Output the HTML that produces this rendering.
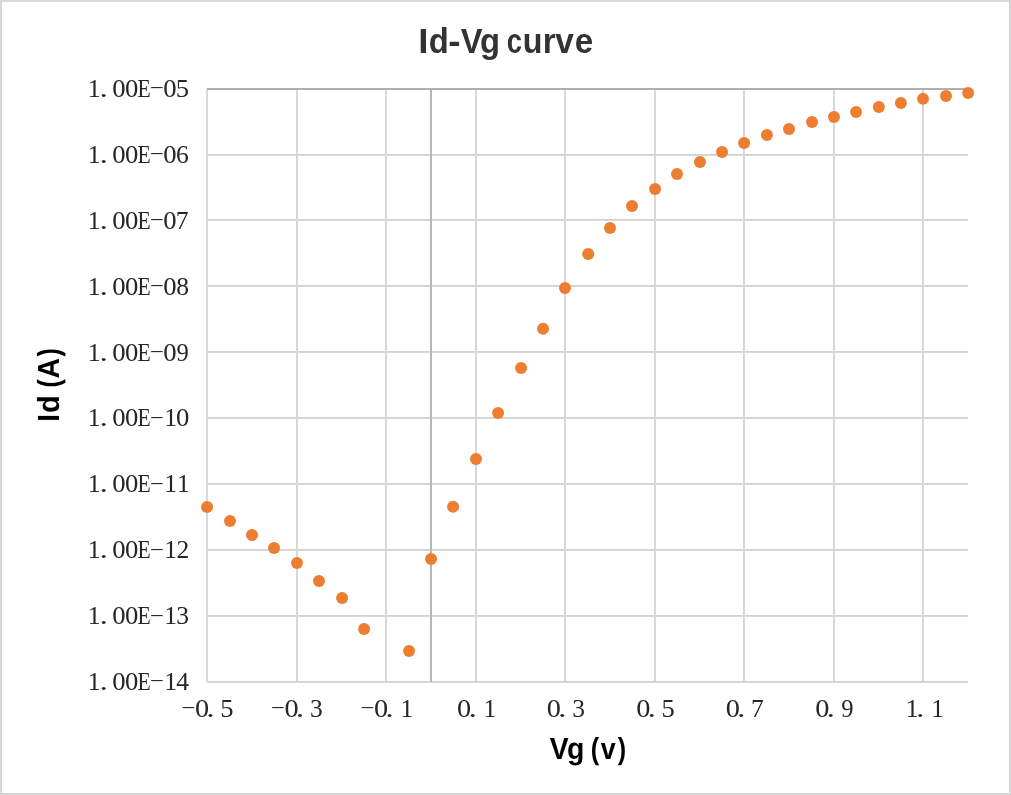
<!DOCTYPE html><html><head><meta charset="utf-8"><style>html,body{margin:0;padding:0;background:#fff;overflow:hidden}svg{display:block}.tk{font-family:"Liberation Serif","Noto Serif CJK SC",serif;font-size:25.50px;fill:#262626}.ttl{font-family:"Liberation Sans",sans-serif;font-weight:bold;font-size:35px;fill:#333}.ax{text-rendering:geometricPrecision;font-family:"Liberation Sans",sans-serif;font-weight:bold;font-size:31.5px;fill:#000}</style></head><body>
<svg width="1011" height="795" viewBox="0 0 1011 795">
<rect x="0" y="0" width="1011" height="795" fill="#d9d9d9"/>
<rect x="2" y="2" width="1007" height="791" fill="#ffffff"/>
<g shape-rendering="crispEdges" stroke-width="1">
<line x1="1.5" y1="2" x2="1.5" y2="793" stroke="#c9c9c9" stroke-dasharray="1 1.7"/>
<line x1="1009.5" y1="2" x2="1009.5" y2="793" stroke="#c9c9c9" stroke-dasharray="1 1.7"/>
<line x1="1" y1="793.5" x2="1010" y2="793.5" stroke="#cbcbcb" stroke-dasharray="1 1"/>
</g>
<g shape-rendering="crispEdges">
<rect x="207" y="154" width="761" height="2" fill="#d9d9d9"/>
<line x1="207" y1="154.5" x2="968" y2="154.5" stroke="#cacaca" stroke-width="1" stroke-dasharray="1 1" stroke-dashoffset="0"/>
<rect x="207" y="219" width="761" height="2" fill="#d9d9d9"/>
<line x1="207" y1="219.5" x2="968" y2="219.5" stroke="#cacaca" stroke-width="1" stroke-dasharray="1 1" stroke-dashoffset="0"/>
<rect x="207" y="285" width="761" height="2" fill="#d9d9d9"/>
<line x1="207" y1="285.5" x2="968" y2="285.5" stroke="#cacaca" stroke-width="1" stroke-dasharray="1 1" stroke-dashoffset="0"/>
<rect x="207" y="351" width="761" height="2" fill="#d9d9d9"/>
<line x1="207" y1="351.5" x2="968" y2="351.5" stroke="#cacaca" stroke-width="1" stroke-dasharray="1 1" stroke-dashoffset="0"/>
<rect x="207" y="417" width="761" height="2" fill="#d9d9d9"/>
<line x1="207" y1="417.5" x2="968" y2="417.5" stroke="#cacaca" stroke-width="1" stroke-dasharray="1 1" stroke-dashoffset="0"/>
<rect x="207" y="483" width="761" height="2" fill="#d9d9d9"/>
<line x1="207" y1="483.5" x2="968" y2="483.5" stroke="#cacaca" stroke-width="1" stroke-dasharray="1 1" stroke-dashoffset="0"/>
<rect x="207" y="549" width="761" height="2" fill="#d9d9d9"/>
<line x1="207" y1="549.5" x2="968" y2="549.5" stroke="#cacaca" stroke-width="1" stroke-dasharray="1 1" stroke-dashoffset="0"/>
<rect x="207" y="615" width="761" height="2" fill="#d9d9d9"/>
<line x1="207" y1="615.5" x2="968" y2="615.5" stroke="#cacaca" stroke-width="1" stroke-dasharray="1 1" stroke-dashoffset="0"/>
<rect x="207" y="681" width="761" height="2" fill="#d9d9d9"/>
<line x1="207" y1="681.5" x2="968" y2="681.5" stroke="#cacaca" stroke-width="1" stroke-dasharray="1 1" stroke-dashoffset="0"/>
<rect x="206" y="89" width="2" height="593" fill="#d9d9d9"/>
<rect x="296" y="89" width="2" height="593" fill="#d9d9d9"/>
<line x1="296.5" y1="89" x2="296.5" y2="682" stroke="#cbcbcb" stroke-width="1" stroke-dasharray="1 3"/>
<rect x="385" y="89" width="2" height="593" fill="#d9d9d9"/>
<line x1="385.5" y1="89" x2="385.5" y2="682" stroke="#cbcbcb" stroke-width="1" stroke-dasharray="1 3"/>
<rect x="475" y="89" width="2" height="593" fill="#d9d9d9"/>
<line x1="475.5" y1="89" x2="475.5" y2="682" stroke="#cbcbcb" stroke-width="1" stroke-dasharray="1 3"/>
<rect x="564" y="89" width="2" height="593" fill="#d9d9d9"/>
<line x1="564.5" y1="89" x2="564.5" y2="682" stroke="#cbcbcb" stroke-width="1" stroke-dasharray="1 3"/>
<rect x="654" y="89" width="2" height="593" fill="#d9d9d9"/>
<line x1="654.5" y1="89" x2="654.5" y2="682" stroke="#cbcbcb" stroke-width="1" stroke-dasharray="1 3"/>
<rect x="743" y="89" width="2" height="593" fill="#d9d9d9"/>
<line x1="743.5" y1="89" x2="743.5" y2="682" stroke="#cbcbcb" stroke-width="1" stroke-dasharray="1 3"/>
<rect x="833" y="89" width="2" height="593" fill="#d9d9d9"/>
<line x1="833.5" y1="89" x2="833.5" y2="682" stroke="#cbcbcb" stroke-width="1" stroke-dasharray="1 3"/>
<rect x="922" y="89" width="2" height="593" fill="#d9d9d9"/>
<line x1="922.5" y1="89" x2="922.5" y2="682" stroke="#cbcbcb" stroke-width="1" stroke-dasharray="1 3"/>
<rect x="430" y="89" width="2" height="593" fill="#b6b6b6"/>
<rect x="207" y="88" width="761" height="2" fill="#b0b0b0"/>
</g>
<circle cx="207.07" cy="506.90" r="6.0" fill="#ed7d31"/>
<circle cx="230.00" cy="520.90" r="6.0" fill="#ed7d31"/>
<circle cx="252.00" cy="534.95" r="6.0" fill="#ed7d31"/>
<circle cx="274.05" cy="547.90" r="6.0" fill="#ed7d31"/>
<circle cx="297.00" cy="563.00" r="6.0" fill="#ed7d31"/>
<circle cx="319.00" cy="581.10" r="6.0" fill="#ed7d31"/>
<circle cx="342.07" cy="597.90" r="6.0" fill="#ed7d31"/>
<circle cx="364.10" cy="629.00" r="6.0" fill="#ed7d31"/>
<circle cx="409.05" cy="651.00" r="6.0" fill="#ed7d31"/>
<circle cx="431.07" cy="559.00" r="6.0" fill="#ed7d31"/>
<circle cx="453.10" cy="506.85" r="6.0" fill="#ed7d31"/>
<circle cx="476.00" cy="458.97" r="6.0" fill="#ed7d31"/>
<circle cx="498.10" cy="412.90" r="6.0" fill="#ed7d31"/>
<circle cx="521.07" cy="368.05" r="6.0" fill="#ed7d31"/>
<circle cx="543.05" cy="328.70" r="6.0" fill="#ed7d31"/>
<circle cx="565.00" cy="288.00" r="6.0" fill="#ed7d31"/>
<circle cx="588.20" cy="253.90" r="6.0" fill="#ed7d31"/>
<circle cx="610.00" cy="228.10" r="6.0" fill="#ed7d31"/>
<circle cx="632.00" cy="205.90" r="6.0" fill="#ed7d31"/>
<circle cx="655.10" cy="188.90" r="6.0" fill="#ed7d31"/>
<circle cx="677.00" cy="174.00" r="6.0" fill="#ed7d31"/>
<circle cx="700.00" cy="161.90" r="6.0" fill="#ed7d31"/>
<circle cx="722.05" cy="151.96" r="6.0" fill="#ed7d31"/>
<circle cx="744.10" cy="143.05" r="6.0" fill="#ed7d31"/>
<circle cx="766.90" cy="134.98" r="6.0" fill="#ed7d31"/>
<circle cx="789.00" cy="129.10" r="6.0" fill="#ed7d31"/>
<circle cx="812.05" cy="122.02" r="6.0" fill="#ed7d31"/>
<circle cx="834.00" cy="117.00" r="6.0" fill="#ed7d31"/>
<circle cx="856.10" cy="112.00" r="6.0" fill="#ed7d31"/>
<circle cx="878.90" cy="107.06" r="6.0" fill="#ed7d31"/>
<circle cx="900.90" cy="102.97" r="6.0" fill="#ed7d31"/>
<circle cx="923.00" cy="98.87" r="6.0" fill="#ed7d31"/>
<circle cx="946.00" cy="96.00" r="6.0" fill="#ed7d31"/>
<circle cx="968.10" cy="93.00" r="6.0" fill="#ed7d31"/>
<text class="tk"><tspan x="87.76" y="96.95">1</tspan><tspan x="99.57" y="96.95" textLength="8.46" lengthAdjust="spacingAndGlyphs">.</tspan><tspan x="112.21" y="96.95" textLength="13.33" lengthAdjust="spacingAndGlyphs">0</tspan><tspan x="124.96" y="96.95" textLength="13.33" lengthAdjust="spacingAndGlyphs">0</tspan><tspan x="137.38" y="96.95" textLength="13.20" lengthAdjust="spacingAndGlyphs">E</tspan><tspan x="149.41" y="91.03" style="font-size:15.0px" textLength="14.74" lengthAdjust="spacingAndGlyphs">-</tspan><tspan x="163.21" y="96.95" textLength="13.33" lengthAdjust="spacingAndGlyphs">0</tspan><tspan x="175.81" y="96.95" textLength="13.28" lengthAdjust="spacingAndGlyphs">5</tspan></text>
<text class="tk"><tspan x="87.76" y="162.84">1</tspan><tspan x="99.57" y="162.84" textLength="8.46" lengthAdjust="spacingAndGlyphs">.</tspan><tspan x="112.21" y="162.84" textLength="13.33" lengthAdjust="spacingAndGlyphs">0</tspan><tspan x="124.96" y="162.84" textLength="13.33" lengthAdjust="spacingAndGlyphs">0</tspan><tspan x="137.38" y="162.84" textLength="13.20" lengthAdjust="spacingAndGlyphs">E</tspan><tspan x="149.41" y="157.03" style="font-size:15.0px" textLength="14.74" lengthAdjust="spacingAndGlyphs">-</tspan><tspan x="163.21" y="162.84" textLength="13.33" lengthAdjust="spacingAndGlyphs">0</tspan><tspan x="176.08" y="162.84">6</tspan></text>
<text class="tk"><tspan x="87.76" y="228.73">1</tspan><tspan x="99.57" y="228.73" textLength="8.46" lengthAdjust="spacingAndGlyphs">.</tspan><tspan x="112.21" y="228.73" textLength="13.33" lengthAdjust="spacingAndGlyphs">0</tspan><tspan x="124.96" y="228.73" textLength="13.33" lengthAdjust="spacingAndGlyphs">0</tspan><tspan x="137.38" y="228.73" textLength="13.20" lengthAdjust="spacingAndGlyphs">E</tspan><tspan x="149.41" y="223.03" style="font-size:15.0px" textLength="14.74" lengthAdjust="spacingAndGlyphs">-</tspan><tspan x="163.21" y="228.73" textLength="13.33" lengthAdjust="spacingAndGlyphs">0</tspan><tspan x="175.78" y="228.73">7</tspan></text>
<text class="tk"><tspan x="87.76" y="294.62">1</tspan><tspan x="99.57" y="294.62" textLength="8.46" lengthAdjust="spacingAndGlyphs">.</tspan><tspan x="112.21" y="294.62" textLength="13.33" lengthAdjust="spacingAndGlyphs">0</tspan><tspan x="124.96" y="294.62" textLength="13.33" lengthAdjust="spacingAndGlyphs">0</tspan><tspan x="137.38" y="294.62" textLength="13.20" lengthAdjust="spacingAndGlyphs">E</tspan><tspan x="149.41" y="289.03" style="font-size:15.0px" textLength="14.74" lengthAdjust="spacingAndGlyphs">-</tspan><tspan x="163.21" y="294.62" textLength="13.33" lengthAdjust="spacingAndGlyphs">0</tspan><tspan x="176.25" y="294.62">8</tspan></text>
<text class="tk"><tspan x="87.76" y="360.51">1</tspan><tspan x="99.57" y="360.51" textLength="8.46" lengthAdjust="spacingAndGlyphs">.</tspan><tspan x="112.21" y="360.51" textLength="13.33" lengthAdjust="spacingAndGlyphs">0</tspan><tspan x="124.96" y="360.51" textLength="13.33" lengthAdjust="spacingAndGlyphs">0</tspan><tspan x="137.38" y="360.51" textLength="13.20" lengthAdjust="spacingAndGlyphs">E</tspan><tspan x="149.41" y="355.03" style="font-size:15.0px" textLength="14.74" lengthAdjust="spacingAndGlyphs">-</tspan><tspan x="163.21" y="360.51" textLength="13.33" lengthAdjust="spacingAndGlyphs">0</tspan><tspan x="176.46" y="360.51" textLength="12.30" lengthAdjust="spacingAndGlyphs">9</tspan></text>
<text class="tk"><tspan x="87.76" y="426.39">1</tspan><tspan x="99.57" y="426.39" textLength="8.46" lengthAdjust="spacingAndGlyphs">.</tspan><tspan x="112.21" y="426.39" textLength="13.33" lengthAdjust="spacingAndGlyphs">0</tspan><tspan x="124.96" y="426.39" textLength="13.33" lengthAdjust="spacingAndGlyphs">0</tspan><tspan x="137.38" y="426.39" textLength="13.20" lengthAdjust="spacingAndGlyphs">E</tspan><tspan x="149.41" y="421.03" style="font-size:15.0px" textLength="14.74" lengthAdjust="spacingAndGlyphs">-</tspan><tspan x="164.26" y="426.39">1</tspan><tspan x="175.96" y="426.39" textLength="13.33" lengthAdjust="spacingAndGlyphs">0</tspan></text>
<text class="tk"><tspan x="87.76" y="492.28">1</tspan><tspan x="99.57" y="492.28" textLength="8.46" lengthAdjust="spacingAndGlyphs">.</tspan><tspan x="112.21" y="492.28" textLength="13.33" lengthAdjust="spacingAndGlyphs">0</tspan><tspan x="124.96" y="492.28" textLength="13.33" lengthAdjust="spacingAndGlyphs">0</tspan><tspan x="137.38" y="492.28" textLength="13.20" lengthAdjust="spacingAndGlyphs">E</tspan><tspan x="149.41" y="487.03" style="font-size:15.0px" textLength="14.74" lengthAdjust="spacingAndGlyphs">-</tspan><tspan x="164.26" y="492.28">1</tspan><tspan x="177.01" y="492.28">1</tspan></text>
<text class="tk"><tspan x="87.76" y="558.17">1</tspan><tspan x="99.57" y="558.17" textLength="8.46" lengthAdjust="spacingAndGlyphs">.</tspan><tspan x="112.21" y="558.17" textLength="13.33" lengthAdjust="spacingAndGlyphs">0</tspan><tspan x="124.96" y="558.17" textLength="13.33" lengthAdjust="spacingAndGlyphs">0</tspan><tspan x="137.38" y="558.17" textLength="13.20" lengthAdjust="spacingAndGlyphs">E</tspan><tspan x="149.41" y="553.03" style="font-size:15.0px" textLength="14.74" lengthAdjust="spacingAndGlyphs">-</tspan><tspan x="164.26" y="558.17">1</tspan><tspan x="176.39" y="558.17">2</tspan></text>
<text class="tk"><tspan x="87.76" y="624.06">1</tspan><tspan x="99.57" y="624.06" textLength="8.46" lengthAdjust="spacingAndGlyphs">.</tspan><tspan x="112.21" y="624.06" textLength="13.33" lengthAdjust="spacingAndGlyphs">0</tspan><tspan x="124.96" y="624.06" textLength="13.33" lengthAdjust="spacingAndGlyphs">0</tspan><tspan x="137.38" y="624.06" textLength="13.20" lengthAdjust="spacingAndGlyphs">E</tspan><tspan x="149.41" y="619.03" style="font-size:15.0px" textLength="14.74" lengthAdjust="spacingAndGlyphs">-</tspan><tspan x="164.26" y="624.06">1</tspan><tspan x="176.14" y="624.06">3</tspan></text>
<text class="tk"><tspan x="87.76" y="689.95">1</tspan><tspan x="99.57" y="689.95" textLength="8.46" lengthAdjust="spacingAndGlyphs">.</tspan><tspan x="112.21" y="689.95" textLength="13.33" lengthAdjust="spacingAndGlyphs">0</tspan><tspan x="124.96" y="689.95" textLength="13.33" lengthAdjust="spacingAndGlyphs">0</tspan><tspan x="137.38" y="689.95" textLength="13.20" lengthAdjust="spacingAndGlyphs">E</tspan><tspan x="149.41" y="684.03" style="font-size:15.0px" textLength="14.74" lengthAdjust="spacingAndGlyphs">-</tspan><tspan x="164.26" y="689.95">1</tspan><tspan x="176.20" y="689.95">4</tspan></text>
<text class="tk"><tspan x="181.06" y="711.03" style="font-size:15.0px" textLength="14.74" lengthAdjust="spacingAndGlyphs">-</tspan><tspan x="194.92" y="716.55" textLength="14.16" lengthAdjust="spacingAndGlyphs">0</tspan><tspan x="206.27" y="716.55" textLength="8.46" lengthAdjust="spacingAndGlyphs">.</tspan><tspan x="220.21" y="716.55" textLength="13.28" lengthAdjust="spacingAndGlyphs">5</tspan></text>
<text class="tk"><tspan x="270.59" y="711.03" style="font-size:15.0px" textLength="14.74" lengthAdjust="spacingAndGlyphs">-</tspan><tspan x="284.45" y="716.55" textLength="14.16" lengthAdjust="spacingAndGlyphs">0</tspan><tspan x="295.80" y="716.55" textLength="8.46" lengthAdjust="spacingAndGlyphs">.</tspan><tspan x="310.07" y="716.55">3</tspan></text>
<text class="tk"><tspan x="360.12" y="711.03" style="font-size:15.0px" textLength="14.74" lengthAdjust="spacingAndGlyphs">-</tspan><tspan x="373.98" y="716.55" textLength="14.16" lengthAdjust="spacingAndGlyphs">0</tspan><tspan x="385.33" y="716.55" textLength="8.46" lengthAdjust="spacingAndGlyphs">.</tspan><tspan x="400.47" y="716.55">1</tspan></text>
<text class="tk"><tspan x="457.13" y="716.55" textLength="14.16" lengthAdjust="spacingAndGlyphs">0</tspan><tspan x="468.48" y="716.55" textLength="8.46" lengthAdjust="spacingAndGlyphs">.</tspan><tspan x="483.62" y="716.55">1</tspan></text>
<text class="tk"><tspan x="546.66" y="716.55" textLength="14.16" lengthAdjust="spacingAndGlyphs">0</tspan><tspan x="558.01" y="716.55" textLength="8.46" lengthAdjust="spacingAndGlyphs">.</tspan><tspan x="572.28" y="716.55">3</tspan></text>
<text class="tk"><tspan x="636.19" y="716.55" textLength="14.16" lengthAdjust="spacingAndGlyphs">0</tspan><tspan x="647.54" y="716.55" textLength="8.46" lengthAdjust="spacingAndGlyphs">.</tspan><tspan x="661.48" y="716.55" textLength="13.28" lengthAdjust="spacingAndGlyphs">5</tspan></text>
<text class="tk"><tspan x="725.72" y="716.55" textLength="14.16" lengthAdjust="spacingAndGlyphs">0</tspan><tspan x="737.07" y="716.55" textLength="8.46" lengthAdjust="spacingAndGlyphs">.</tspan><tspan x="750.98" y="716.55">7</tspan></text>
<text class="tk"><tspan x="815.25" y="716.55" textLength="14.16" lengthAdjust="spacingAndGlyphs">0</tspan><tspan x="826.60" y="716.55" textLength="8.46" lengthAdjust="spacingAndGlyphs">.</tspan><tspan x="841.19" y="716.55" textLength="12.30" lengthAdjust="spacingAndGlyphs">9</tspan></text>
<text class="tk"><tspan x="905.77" y="716.55">1</tspan><tspan x="916.13" y="716.55" textLength="8.46" lengthAdjust="spacingAndGlyphs">.</tspan><tspan x="931.27" y="716.55">1</tspan></text>
<text class="ttl" style="font-size:34.4px"><tspan x="418.34" y="52.70" textLength="10.22" lengthAdjust="spacingAndGlyphs">I</tspan><tspan x="428.76" y="52.70" textLength="20.00" lengthAdjust="spacingAndGlyphs">d</tspan><tspan x="448.25" y="52.70" textLength="12.33" lengthAdjust="spacingAndGlyphs">-</tspan><tspan x="460.68" y="52.70" textLength="21.75" lengthAdjust="spacingAndGlyphs">V</tspan><tspan x="479.95" y="52.70" textLength="20.04" lengthAdjust="spacingAndGlyphs">g</tspan> <tspan x="506.83" y="52.70" textLength="15.28" lengthAdjust="spacingAndGlyphs">c</tspan><tspan x="522.80" y="52.70" textLength="19.73" lengthAdjust="spacingAndGlyphs">u</tspan><tspan x="542.72" y="52.70" textLength="12.88" lengthAdjust="spacingAndGlyphs">r</tspan><tspan x="555.37" y="52.70" textLength="18.58" lengthAdjust="spacingAndGlyphs">v</tspan><tspan x="574.71" y="52.70" textLength="18.43" lengthAdjust="spacingAndGlyphs">e</tspan></text>
<text class="ax" style="font-size:30.5px"><tspan x="549.81" y="759.40" textLength="18.89" lengthAdjust="spacingAndGlyphs">V</tspan><tspan x="566.93" y="759.40" textLength="17.37" lengthAdjust="spacingAndGlyphs">g</tspan> <tspan x="590.85" y="759.40" textLength="8.38" lengthAdjust="spacingAndGlyphs">(</tspan><tspan x="600.80" y="759.40" textLength="14.92" lengthAdjust="spacingAndGlyphs">v</tspan><tspan x="617.68" y="759.40" textLength="8.38" lengthAdjust="spacingAndGlyphs">)</tspan></text>
<text class="ax" style="font-size:30.5px" transform="translate(59.2,0) rotate(-90)"><tspan x="-421.76" y="0.00" textLength="7.72" lengthAdjust="spacingAndGlyphs">I</tspan><tspan x="-413.09" y="0.00" textLength="17.70" lengthAdjust="spacingAndGlyphs">d</tspan> <tspan x="-387.44" y="0.00" textLength="8.26" lengthAdjust="spacingAndGlyphs">(</tspan><tspan x="-378.41" y="0.00" textLength="20.56" lengthAdjust="spacingAndGlyphs">A</tspan><tspan x="-356.62" y="0.00" textLength="8.38" lengthAdjust="spacingAndGlyphs">)</tspan></text>
</svg></body></html>
